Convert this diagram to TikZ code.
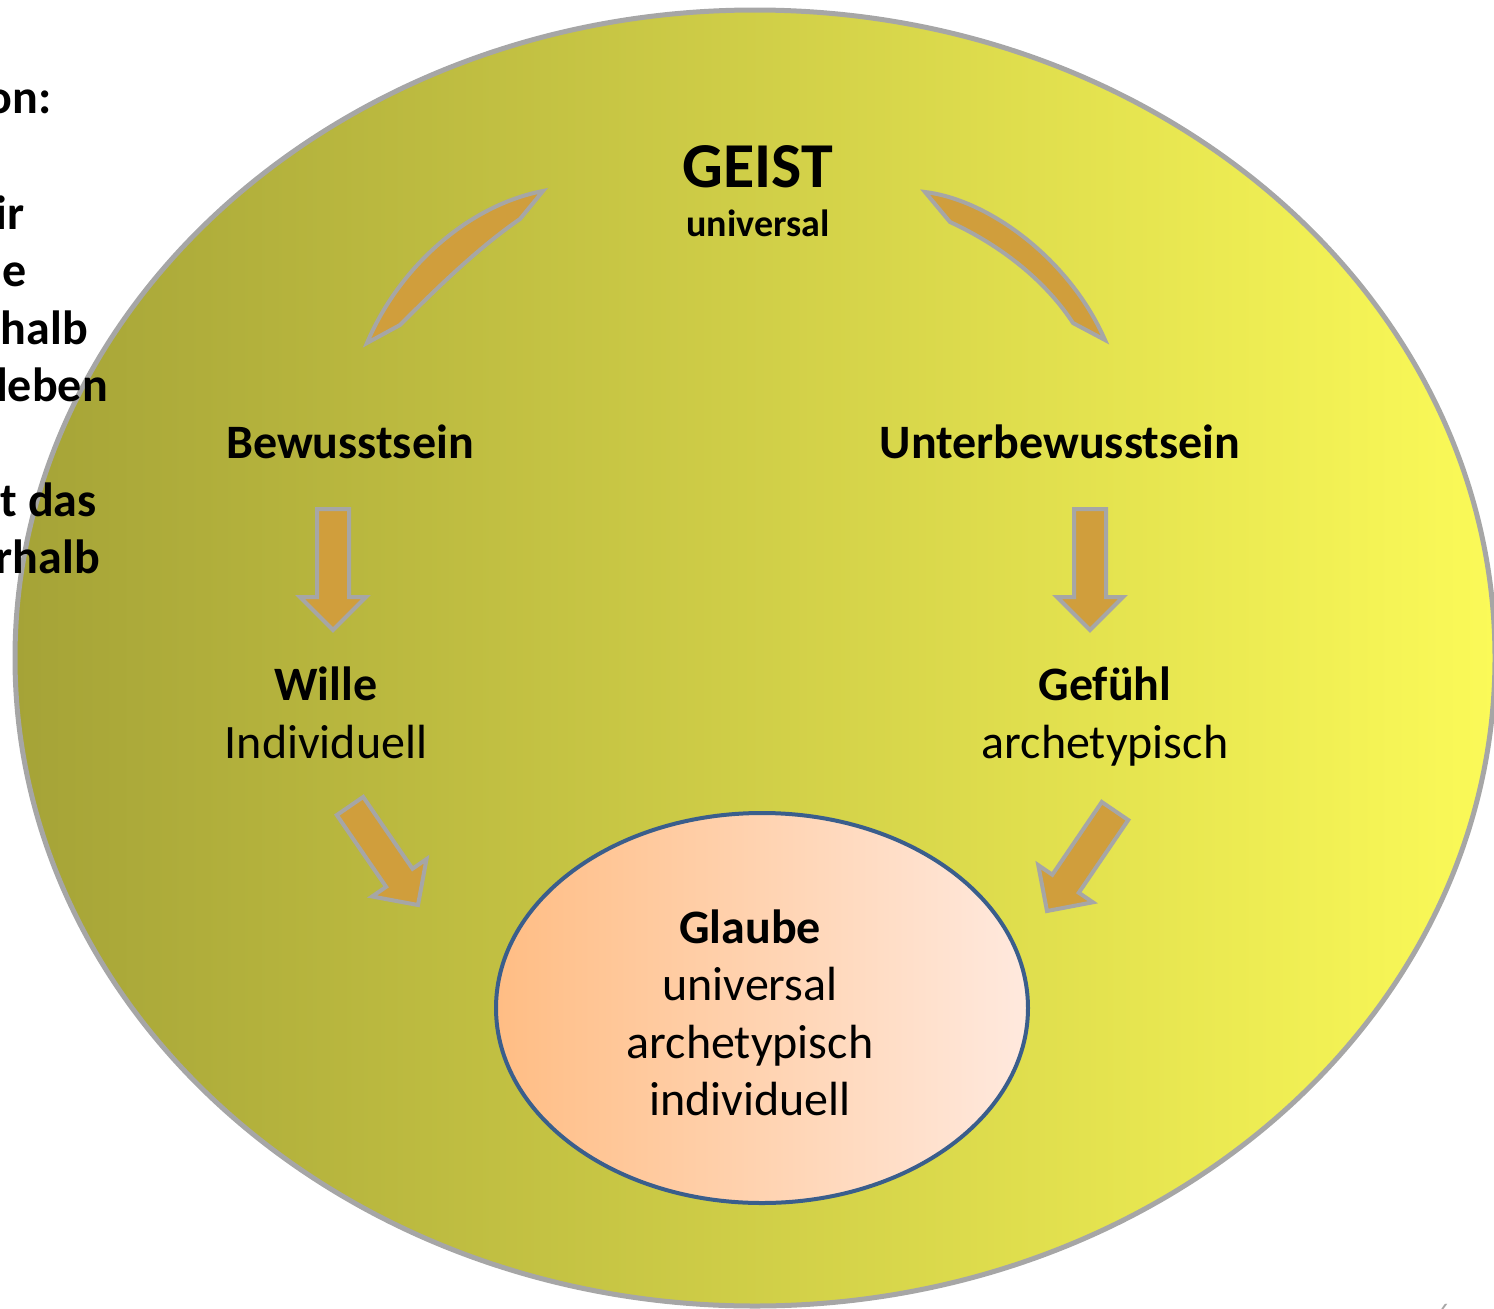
\documentclass[tikz,border=0pt]{standalone}
\usepackage{fontspec}
\setmainfont{Carlito}
\usepackage{tikz}
\usetikzlibrary{shapes, calc}

\definecolor{ringgray}{RGB}{166,166,166}
\definecolor{ringleft}{RGB}{165,163,55}
\definecolor{ringright}{RGB}{251,250,88}
\definecolor{arrowfill}{RGB}{208,158,60}
\definecolor{faithblue}{RGB}{58,94,140}
\definecolor{faithleft}{RGB}{255,189,132}
\definecolor{faithright}{RGB}{255,233,222}

\tikzset{
	bigring/.style={draw=ringgray, line width=5pt, left color=ringleft, right color=ringright},
	faith/.style={ellipse, draw=faithblue, line width=4pt, left color=faithleft, right color=faithright,
		minimum width=532pt, minimum height=390pt, inner sep=0pt},
	blockarr/.style={draw=ringgray, line width=4pt, fill=arrowfill, line join=miter},
	head/.style={anchor=base, inner sep=0pt, font=\fontsize{48}{58}\selectfont\bfseries},
	sub/.style={anchor=base, inner sep=0pt, font=\fontsize{48}{58}\selectfont},
	cut/.style={anchor=base east, inner sep=0pt, font=\fontsize{48}{58}\selectfont\bfseries},
}

% straight block arrow from tail to tip
\newcommand{\blockarrow}[2]{%
	\coordinate (hb) at ($(#2)!33pt!(#1)$);
	\draw[blockarr] ($(#1)!16pt!90:(#2)$) -- ($(hb)!16pt!90:(#2)$) -- ($(hb)!33pt!90:(#2)$)
		-- (#2) -- ($(hb)!33pt!-90:(#2)$) -- ($(hb)!16pt!-90:(#2)$) -- ($(#1)!16pt!-90:(#2)$) -- cycle;
}

\begin{document}
\begin{tikzpicture}[x=1pt, y=-1pt]
	\useasboundingbox (0,0) rectangle (1494,1309);
	\draw[bigring] (755,658) ellipse [x radius=740, y radius=648];
	\node[faith] (glaube) at (762,1008) {};

	% cut off text of the slide
	\node[cut] (c1) at (52,113) {on:};
	\node[cut] (c2) at (25,229) {ir};
	\node[cut] (c3) at (27,286) {ne};
	\node[cut] (c4) at (88,344) {rhalb};
	\node[cut] (c5) at (108,401) {leben};
	\node[cut] (c6) at (97,516) {t das};
	\node[cut] (c7) at (100,573) {rhalb};

	\node[head, font=\fontsize{64}{76}\selectfont\bfseries] (geist) at (758,187) {GEIST};
	\node[head, font=\fontsize{38}{46}\selectfont\bfseries] (geistsub) at (758,236) {universal};
	\node[head] (bew) at (350,458) {Bewusstsein};
	\node[head] (ubew) at (1060,458) {Unterbewusstsein};
	\node[head] (wille) at (326,700) {Wille};
	\node[sub] (willesub) at (326,758) {Individuell};
	\node[head] (gef) at (1105,700) {Gefühl};
	\node[sub] (gefsub) at (1105,758) {archetypisch};
	\node[sub, anchor=center, align=center, font=\fontsize{48}{57.5}\selectfont] (glaubetxt) at (750,1013)
		{\textbf{Glaube}\\universal\\archetypisch\\individuell};

	% curved arrows under GEIST
	\coordinate (la1) at (543,191);
	\coordinate (la2) at (367,343);
	\coordinate (ra1) at (925,192);
	\coordinate (ra2) at (1105,340);
	\draw[blockarr] (la1) .. controls (470,205) and (400,265) .. (la2) -- (400,325)
		.. controls (430,295) and (475,250) .. (520,219) -- cycle;
	\draw[blockarr] (ra1) .. controls (990,200) and (1070,260) .. (ra2) -- (1073,323)
		.. controls (1045,280) and (1000,245) .. (950,222) -- cycle;

	% straight arrows
	\coordinate (bw-tail) at (333,509);
	\coordinate (bw-tip) at (333,630);
	\coordinate (ub-tail) at (1090,509);
	\coordinate (ub-tip) at (1090,630);
	\coordinate (wi-tail) at (350,806);
	\coordinate (wi-tip) at (418,905);
	\coordinate (ge-tail) at (1115,811);
	\coordinate (ge-tip) at (1047,911);
	\blockarrow{bw-tail}{bw-tip}
	\blockarrow{ub-tail}{ub-tip}
	\blockarrow{wi-tail}{wi-tip}
	\blockarrow{ge-tail}{ge-tip}

	\node[anchor=base, text=ringgray, font=\fontsize{24}{28}\selectfont] (pnum) at (1444,1320) {6};
\end{tikzpicture}
\end{document}
